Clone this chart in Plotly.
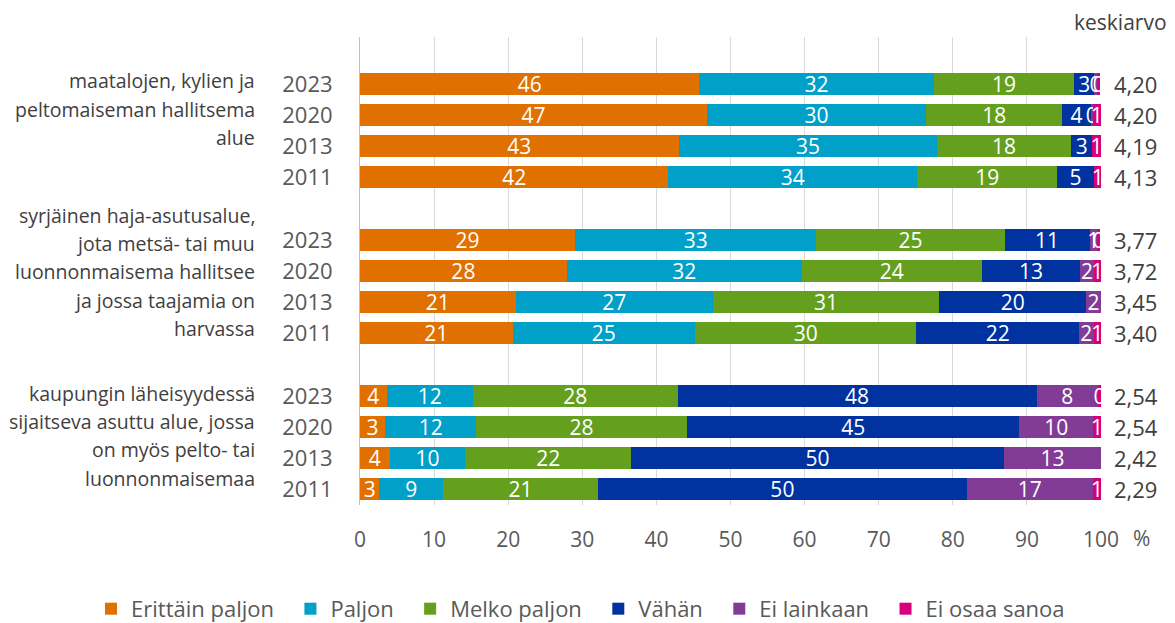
import plotly.graph_objects as go

# ---------------- data ----------------
groups = [
    ["maatalojen, kylien ja", "peltomaiseman hallitsema", "alue"],
    ["syrjäinen haja-asutusalue,", "jota metsä- tai muu", "luonnonmaisema hallitsee",
     "ja jossa taajamia on", "harvassa"],
    ["kaupungin läheisyydessä", "sijaitseva asuttu alue, jossa", "on myös pelto- tai",
     "luonnonmaisemaa"],
]
years = ["2023", "2020", "2013", "2011"]

series_names = ["Erittäin paljon", "Paljon", "Melko paljon", "Vähän", "Ei lainkaan", "Ei osaa sanoa"]
colors = ["#E07000", "#00A0C8", "#64A01E", "#0033A0", "#823C96", "#D6007D"]

# values per row (group order, year order 2023, 2020, 2013, 2011)
erittain = [45.8, 46.8, 43.0, 41.6,   29.0, 27.9, 21.0, 20.6,   3.6, 3.4, 4.0, 2.6]
paljon   = [31.6, 29.6, 34.9, 33.6,   32.6, 31.7, 26.6, 24.6,   11.65, 12.3, 10.2, 8.6]
melko    = [19.0, 18.4, 18.05, 18.9,  25.4, 24.3, 30.6, 29.9,   27.6, 28.4, 22.4, 20.9]
vahan    = [2.65, 3.8, 2.9, 4.9,      11.45, 13.3, 19.8, 21.9,  48.45, 44.9, 50.3, 49.8]
ei_lain  = [0.4, 0.3, None, None,     1.0, 1.8, 2.0, 2.0,       8.3, 9.9, 13.1, 17.0]
ei_osaa  = [0.45, 1.05, 1.1, 1.1,     0.45, 1.0, None, 1.0,     0.4, 1.1, None, 1.1]
series_values = [erittain, paljon, melko, vahan, ei_lain, ei_osaa]

keskiarvo = ["4,20", "4,20", "4,19", "4,13",
             "3,77", "3,72", "3,45", "3,40",
             "2,54", "2,54", "2,42", "2,29"]

x_ticks = [0, 10, 20, 30, 40, 50, 60, 70, 80, 90, 100]

# ---------------- layout helpers ----------------
# one empty slot at top, one empty slot between groups
row_pos = []
for g in range(len(groups)):
    for i in range(len(years)):
        row_pos.append(1 + g * (len(years) + 1) + i)
row_labels = years * len(groups)
n_slots = len(groups) * (len(years) + 1)

FONT = "Open Sans, Noto Sans, sans-serif"
GREY = "#595959"
DARK = "#404040"
LEGEND_PAD = "\u00a0\u00a0"  # extra spacing after each legend entry

fig = go.Figure()
for name, col, vals in zip(series_names, colors, series_values):
    fig.add_trace(go.Bar(
        y=row_pos, x=vals, name=name + LEGEND_PAD, orientation="h",
        marker=dict(color=col, line=dict(width=0)),
        width=0.7,
        text=["" if v is None else f"{v:.0f}" for v in vals],
        textposition="inside", insidetextanchor="middle",
        constraintext="none", textangle=0,
        textfont=dict(color="white", size=21, family=FONT),
        hovertemplate=name + ": %{x}<extra></extra>",
    ))

annotations = []
# mean values on the right
for y, m in zip(row_pos, keskiarvo):
    annotations.append(dict(x=1, xref="paper", y=y, yref="y", text=m, showarrow=False,
                            xanchor="left", yanchor="middle", xshift=11,
                            font=dict(size=22, color=DARK, family=FONT)))
annotations.append(dict(x=1, xref="paper", y=1, yref="paper", yshift=15, xshift=19,
                        text="keskiarvo", showarrow=False, xanchor="center", yanchor="middle",
                        font=dict(size=21, color=DARK, family=FONT)))
annotations.append(dict(x=1, xref="paper", y=0, yref="paper", yshift=-33, xshift=40,
                        text="%", showarrow=False, xanchor="center", yanchor="middle",
                        font=dict(size=21, color=GREY, family=FONT)))

# group labels (one annotation per line)
group_center_offset = [-0.68, -0.47, -0.22]
line_step = 0.91
for g, lines in enumerate(groups):
    first = 1 + g * (len(years) + 1)
    center = first + (len(years) - 1) / 2 + group_center_offset[g]
    n = len(lines)
    for k, line in enumerate(lines):
        yy = center + (k - (n - 1) / 2) * line_step
        annotations.append(dict(x=-0.139, xref="paper", y=yy, yref="y", text=line,
                                showarrow=False, xanchor="right", yanchor="middle",
                                font=dict(size=19.5, color=DARK, family=FONT)))

fig.update_layout(
    barmode="stack",
    width=1159, height=615,
    margin=dict(l=352, r=66, t=29, b=118, autoexpand=False),
    paper_bgcolor="white", plot_bgcolor="white",
    font=dict(family=FONT, color=GREY, size=20),
    xaxis=dict(range=[0, 100], tickvals=x_ticks, ticktext=[str(t) for t in x_ticks],
               showgrid=True, gridcolor="#D9D9D9", gridwidth=1, zeroline=False,
               showline=False, ticks="", ticklabelstandoff=20,
               tickfont=dict(size=21, color=GREY, family=FONT), fixedrange=True),
    yaxis=dict(range=[n_slots - 0.5, -0.5], tickvals=row_pos, ticktext=row_labels,
               showgrid=False, zeroline=False, showline=True, linecolor="#BFBFBF", linewidth=1,
               ticks="", ticklabelstandoff=22,
               tickfont=dict(size=22, color=GREY, family=FONT), fixedrange=True),
    showlegend=True,
    legend=dict(orientation="h", xref="paper", yref="paper", x=-0.363, y=-0.222,
                xanchor="left", yanchor="middle", traceorder="normal",
                font=dict(size=22, color=GREY, family=FONT), itemwidth=30,
                bgcolor="rgba(0,0,0,0)"),
    annotations=annotations,
)

fig.write_html("out.html")
